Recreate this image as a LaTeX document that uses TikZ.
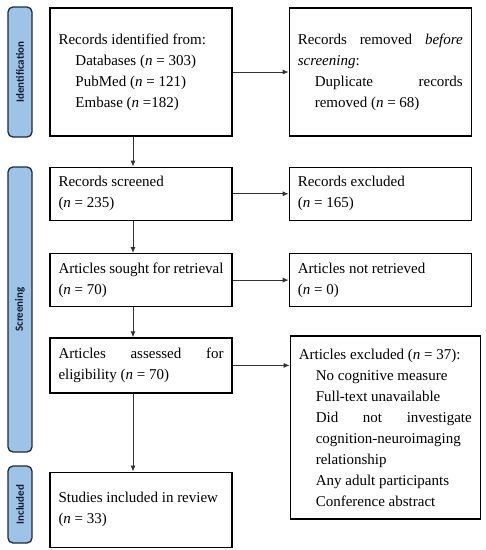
\documentclass[tikz,border=0pt]{standalone}
\usepackage{fontspec}
\setmainfont{Liberation Serif}
\setsansfont{Carlito}
\usetikzlibrary{positioning}
\usetikzlibrary{arrows.meta}
\definecolor{phasefill}{RGB}{157,195,230}
\definecolor{phaseline}{RGB}{30,42,60}
\definecolor{phasetext}{RGB}{16,26,46}
\setlength{\parindent}{0pt}
\setlength{\parskip}{0pt}
\hyphenpenalty=10000
\exhyphenpenalty=10000
\tolerance=9999
\setlength{\emergencystretch}{20pt}
\newcommand{\nn}{\textit{n}}

\begin{document}
\begin{tikzpicture}[
  x=1pt, y=1pt,
  box/.style={draw, line width=1.3pt, text width=165pt, inner xsep=8.5pt, inner ysep=0pt,
    align=justify, font=\fontsize{15}{21}\selectfont},
  phase/.style={draw=phaseline, fill=phasefill, line width=1.3pt, rounded corners=5pt,
    rotate=90, minimum height=24pt, inner sep=0pt, text=phasetext,
    font=\sffamily\bfseries\fontsize{11}{12}\selectfont},
  ar/.style={-{Latex[length=6pt,width=5pt]}, line width=0.8pt, draw=black!80}
  ]
  \useasboundingbox (0,0) rectangle (486,-550);
  % phases
  \node[phase, minimum width=130pt] (idbar) at (20,-72) {Identification};
  \node[phase, minimum width=285pt] (scbar) at (20,-309.5) {Screening};
  \node[phase, minimum width=77pt] (inbar) at (20,-504.5) {Included};
  % left column
  \node[box, minimum height=128pt] (ident) at (141,-72) {Records identified from:\par
    {\leftskip=17pt Databases (\nn{} = 303)\par PubMed (\nn{} = 121)\par Embase (\nn{} =182)\par}};
  \node[box, minimum height=53pt, below=30pt of ident] (screened) {Records screened\par (\nn{} = 235)};
  \node[box, minimum height=53pt, below=32pt of screened] (sought) {Articles sought for retrieval\par (\nn{} = 70)};
  \node[box, minimum height=55pt, below=30pt of sought] (elig) {Articles assessed for eligibility (\nn{} = 70)};
  \node[box, minimum height=75pt, below=78pt of elig] (incl) {Studies included in review\par (\nn{} = 33)};
  % right column
  \node[box, minimum height=128pt, right=56pt of ident] (removed) {Records removed \textit{before screening}:\par
    {\leftskip=17pt Duplicate records removed (\nn{} = 68)\par}};
  \node[box, minimum height=53pt, right=56pt of screened] (excluded) {Records excluded\par (\nn{} = 165)};
  \node[box, minimum height=53pt, right=56pt of sought] (notret) {Articles not retrieved\par (\nn{} = 0)};
  \node[box, minimum height=183pt, text width=173pt, right=57pt of elig.north east, anchor=north west, yshift=2pt] (artexcl)
    {Articles excluded (\nn{} = 37):\par
    {\leftskip=17pt No cognitive measure\par Full-text unavailable\par
    Did not investigate cognition-neuroimaging relationship\par
    Any adult participants\par Conference abstract\par}};
  % arrows
  \draw[ar] ([xshift=-8pt]ident.south) -- ([xshift=-8pt]screened.north);
  \draw[ar] ([xshift=-8pt]screened.south) -- ([xshift=-8pt]sought.north);
  \draw[ar] ([xshift=-8pt]sought.south) -- ([xshift=-8pt]elig.north);
  \draw[ar] ([xshift=-8pt]elig.south) -- ([xshift=-8pt]incl.north);
  \draw[ar] (ident) -- (removed);
  \draw[ar] (screened) -- (excluded);
  \draw[ar] (sought) -- (notret);
  \draw[ar] (elig.east) -- (elig.east -| artexcl.west);
\end{tikzpicture}
\end{document}
